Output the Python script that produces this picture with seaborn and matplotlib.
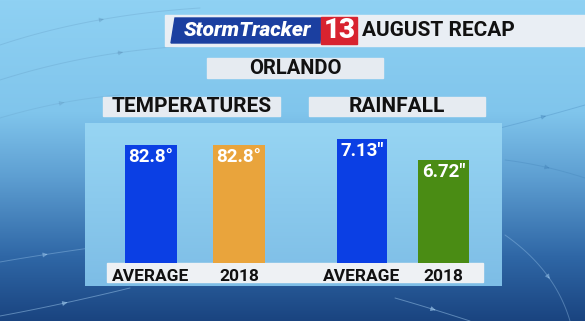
import numpy as np
import pandas as pd
import matplotlib
matplotlib.use("Agg")
import matplotlib.pyplot as plt
from matplotlib.patches import Rectangle, Polygon
from matplotlib.colors import LinearSegmentedColormap
import seaborn as sns

# ---- data ----
categories = ["AVERAGE", "2018"]
temp_values = [82.8, 82.8]
temp_labels = ["82.8°", "82.8°"]
rain_values = [7.13, 6.72]
rain_labels = ['7.13"', '6.72"']
temp_colors = ["#0b3fe4", "#e9a43c"]
rain_colors = ["#0b3fe4", "#4a8c14"]

title_city = "ORLANDO"
title_temp = "TEMPERATURES"
title_rain = "RAINFALL"
brand = "StormTracker"
channel = "13"
headline = "AUGUST RECAP"

W, H = 585, 321
sns.set_theme(style="white")
plt.rcParams["font.family"] = ["Roboto", "DejaVu Sans"]

fig = plt.figure(figsize=(W / 100, H / 100), dpi=100)

# ---- backdrop in pixel coordinates ----
bg = fig.add_axes([0, 0, 1, 1])
bg.set_xlim(0, W)
bg.set_ylim(H, 0)
bg.axis("off")

sky = LinearSegmentedColormap.from_list(
    "sky",
    [(0.0, "#8fd1f3"), (0.35, "#80c5ec"), (0.55, "#5e9fd2"),
     (0.8, "#2f67a6"), (1.0, "#1a4480")])
grad = np.linspace(0, 1, 256).reshape(-1, 1)
bg.imshow(grad, cmap=sky, aspect="auto", extent=(0, W, H, 0), zorder=0)

panel = LinearSegmentedColormap.from_list("panel", ["#97d5f3", "#7dbde6"])
bg.imshow(grad, cmap=panel, aspect="auto", extent=(85, 502, 286, 123), zorder=1)


def stream(p0, p1, p2, color, alpha, lw=0.7):
    t = np.linspace(0, 1, 60)
    x = (1 - t) ** 2 * p0[0] + 2 * (1 - t) * t * p1[0] + t ** 2 * p2[0]
    y = (1 - t) ** 2 * p0[1] + 2 * (1 - t) * t * p1[1] + t ** 2 * p2[1]
    bg.plot(x, y, color=color, alpha=alpha, lw=lw, zorder=0.5)
    i = 30
    bg.annotate("", xy=(x[i + 3], y[i + 3]), xytext=(x[i], y[i]),
                arrowprops=dict(arrowstyle="-|>", color=color, alpha=alpha,
                                lw=lw, mutation_scale=7), zorder=0.5)


stream((0, 45), (90, 15), (200, 8), "#5a8fb8", 0.25)
stream((0, 80), (110, 45), (230, 45), "#5a8fb8", 0.25)
stream((0, 118), (60, 100), (120, 95), "#5a8fb8", 0.2)
stream((0, 262), (40, 255), (90, 248), "#a9d3f5", 0.35)
stream((0, 316), (60, 305), (130, 288), "#a9d3f5", 0.45)
stream((395, 298), (430, 308), (470, 321), "#a9d3f5", 0.45)
stream((505, 235), (555, 270), (570, 321), "#a9d3f5", 0.35)
stream((500, 128), (540, 118), (585, 105), "#3f7fb5", 0.3)
stream((505, 160), (545, 165), (585, 178), "#3f7fb5", 0.3)

# ---- header ----
bg.add_patch(Rectangle((165, 15), W - 165, 31, color="#e9eef4", zorder=2))
bg.add_patch(Polygon([(175, 18), (322, 18), (320, 43), (171, 43)],
                     closed=True, color="#1b3fa0", zorder=3))
bg.add_patch(Rectangle((321, 17), 36, 27, color="#d8232f", zorder=3))
bg.text(247, 31, brand, color="white", fontsize=15, fontweight="heavy",
        fontstyle="italic", ha="center", va="center", zorder=4)
bg.text(339.5, 31, channel, color="white", fontsize=20, fontweight="heavy",
        ha="center", va="center", zorder=4)
bg.text(362, 31, headline, color="#111111", fontsize=15, fontweight="bold",
        ha="left", va="center", zorder=4)

# ---- section title boxes ----
box_color = "#e6ebf1"
bg.add_patch(Rectangle((207, 58), 176, 20, color=box_color, zorder=2))
bg.text(295, 68.5, title_city, color="#111111", fontsize=14.5, fontweight="bold",
        ha="center", va="center", zorder=4)
bg.add_patch(Rectangle((103, 97), 177, 19, color=box_color, zorder=2))
bg.text(191.5, 107, title_temp, color="#111111", fontsize=15, fontweight="bold",
        ha="center", va="center", zorder=4)
bg.add_patch(Rectangle((309, 97), 176, 19, color=box_color, zorder=2))
bg.text(397, 107, title_rain, color="#111111", fontsize=15, fontweight="bold",
        ha="center", va="center", zorder=4)

# category label strip under the bars
bg.add_patch(Rectangle((107, 263), 376, 19, color="#eef1f4", zorder=2))


def px_axes(left, right, top, bottom):
    return fig.add_axes([left / W, 1 - bottom / H, (right - left) / W, (bottom - top) / H])


def bar_panel(ax, values, labels, colors, ymin, ymax, width):
    df = pd.DataFrame({"category": categories, "value": values})
    sns.barplot(data=df, x="category", y="value", hue="category",
                palette=colors, width=width, saturation=1, legend=False,
                linewidth=0, ax=ax)
    ax.set_ylim(ymin, ymax)
    ax.set_xlim(-0.5, 1.5)
    ax.patch.set_alpha(0)
    for s in ax.spines.values():
        s.set_visible(False)
    ax.set_yticks([])
    ax.set_xlabel("")
    ax.set_ylabel("")
    ax.tick_params(axis="x", length=0, pad=4)
    for t in ax.get_xticklabels():
        t.set_fontsize(12.5)
        t.set_fontweight("bold")
        t.set_color("#111111")
    for i, (v, lab) in enumerate(zip(values, labels)):
        ax.annotate(lab, xy=(i, v), xytext=(0, -2), textcoords="offset points",
                    ha="center", va="top", color="white", fontsize=13.5,
                    fontweight="bold")


ax_t = px_axes(107, 283, 135, 263)
bar_panel(ax_t, temp_values, temp_labels, temp_colors, 0, 82.8 * 128 / 118, 0.59)

ax_r = px_axes(321.25, 484.25, 135, 263)
rain_base = 4.72
bar_panel(ax_r, rain_values, rain_labels, rain_colors,
          rain_base, rain_base + (7.13 - rain_base) * 128 / 124, 0.62)

fig.savefig("out.png", dpi=100)
